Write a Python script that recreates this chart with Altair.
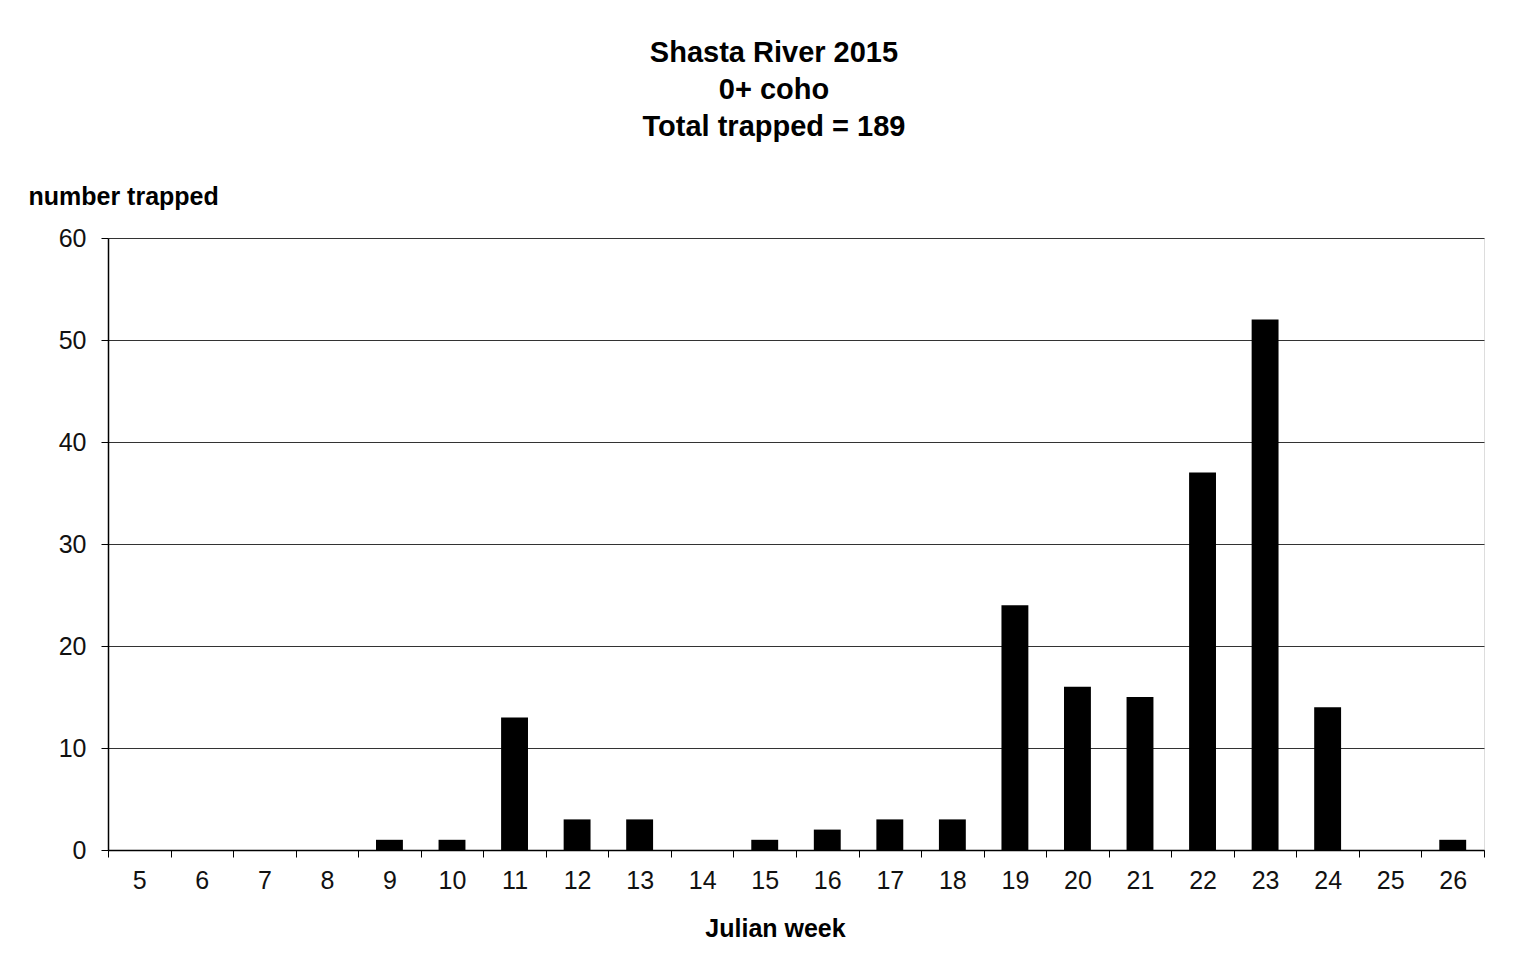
import altair as alt
import pandas as pd

weeks = [str(w) for w in range(5, 27)]
counts = [0, 0, 0, 0, 1, 1, 13, 3, 3, 0, 1, 2, 3, 3, 24, 16, 15, 37, 52, 14, 0, 1]
title_lines = ["Shasta River 2015", "0+ coho", "Total trapped = 189"]
y_ticks = [0, 10, 20, 30, 40, 50, 60]

df = pd.DataFrame({"week": weeks, "count": counts})

FONT = "Liberation Sans"

chart = alt.Chart(df).mark_bar(
    color="#000000", width=alt.RelativeBandSize(0.43)
).encode(
    x=alt.X(
        "week:N",
        sort=weeks,
        scale=alt.Scale(paddingInner=0, paddingOuter=0),
        axis=alt.Axis(
            title="Julian week",
            labelAngle=0,
            tickBand="extent",
            tickSize=7,
            tickColor="#000000",
            domainColor="#000000",
            domainWidth=1.5,
            labelPadding=11,
            labelFontSize=25,
            labelFont=FONT,
            labelColor="#111111",
            titleFont=FONT,
            titleFontSize=25,
            titleFontWeight="bold",
            titleColor="#000000",
            titleY=86,
            titleX=667,
            titleAlign="center",
            titleBaseline="alphabetic",
            grid=False,
        ),
    ),
    y=alt.Y(
        "count:Q",
        scale=alt.Scale(domain=[0, 60], nice=False),
        axis=alt.Axis(
            title="number trapped",
            values=y_ticks,
            tickSize=7,
            tickColor="#000000",
            domainColor="#000000",
            domainWidth=1.5,
            labelPadding=15,
            labelFontSize=25,
            labelFont=FONT,
            labelColor="#111111",
            gridColor="#333333",
            gridWidth=1,
            titleAngle=0,
            titleAlign="left",
            titleBaseline="alphabetic",
            titleX=-80,
            titleY=-34,
            titleFont=FONT,
            titleFontSize=25,
            titleFontWeight="bold",
            titleColor="#000000",
        ),
    ),
).properties(
    width=1376,
    height=612,
    title=alt.TitleParams(
        text=title_lines,
        font=FONT,
        fontSize=29,
        fontWeight="bold",
        color="#000000",
        lineHeight=37,
        anchor="middle",
        dx=-22,
        offset=42,
    ),
    autosize=alt.AutoSizeParams(type="none"),
    padding={"left": 100, "top": 230, "right": 20, "bottom": 95},
).configure_view(
    stroke="#808080", strokeWidth=2.5
).configure(background="#ffffff")

chart.save("out.html", embed_options={"renderer": "svg", "actions": False})
